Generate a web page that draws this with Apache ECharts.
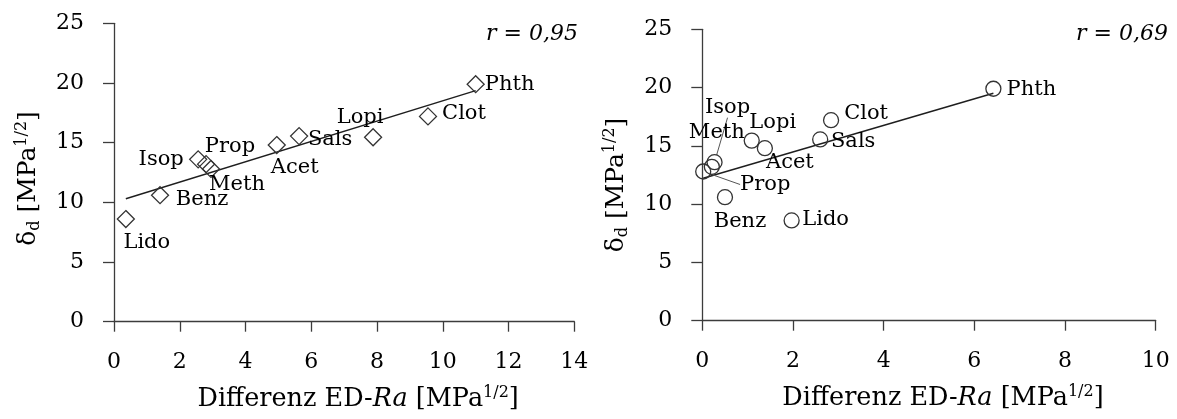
<!DOCTYPE html>
<html>
<head>
<meta charset="utf-8">
<script src="https://cdn.jsdelivr.net/npm/echarts@6/dist/echarts.min.js"></script>
<style>
  html, body { margin: 0; padding: 0; background: #ffffff; }
  #chart { width: 1177px; height: 419px; }
</style>
</head>
<body>
<div id="chart"></div>
<script>
// Substances and their dispersion parameter delta_d [MPa^1/2]
const substances = ['Phth', 'Clot', 'Lopi', 'Sals', 'Acet', 'Isop', 'Meth', 'Prop', 'Benz', 'Lido'];
const deltaD     = [19.9, 17.2, 15.45, 15.55, 14.8, 13.6, 13.2, 12.8, 10.6, 8.6];
// Difference ED - Ra [MPa^1/2], left and right panel
const diffLeft   = [11.0, 9.55, 7.88, 5.63, 4.95, 2.56, 2.8, 2.95, 1.4, 0.36];
const diffRight  = [6.42, 2.84, 1.09, 2.6, 1.38, 0.27, 0.21, 0.02, 0.5, 1.97];
// Correlation coefficients shown in the panels
const rLabels    = ['r = 0,95', 'r = 0,69'];
// Axis ranges
const xMaxLeft = 14, xMaxRight = 10, xStep = 2;
const yMax = 25, yStep = 5;

const FONT = 'DejaVu Serif';
const AXIS_COLOR = '#3c3c3c';
const TEXT_COLOR = '#000000';

// Label centre offset from the marker centre, in px
const labelPlaceLeft = {
  Phth: [34, 0], Clot: [36, -3], Lopi: [-13, -20], Sals: [31, 3], Acet: [18, 22],
  Isop: [-37, 0], Meth: [31, 20], Prop: [19, -22], Benz: [42, 4], Lido: [21, 23]
};
const labelPlaceRight = {
  Phth: [38, 1], Clot: [35, -7], Lopi: [21, -18], Sals: [33, 2], Acet: [25, 14],
  Isop: [13, -55], Meth: [5, -34], Prop: [62, 13], Benz: [15, 24], Lido: [34, -1]
};
const leaderLabelsRight = ['Isop', 'Prop'];

// Least-squares trend line spanning the data range
function trendLine(xs, ys) {
  const n = xs.length;
  const mx = xs.reduce((a, b) => a + b, 0) / n;
  const my = ys.reduce((a, b) => a + b, 0) / n;
  let sxy = 0, sxx = 0;
  for (let i = 0; i < n; i++) {
    sxy += (xs[i] - mx) * (ys[i] - my);
    sxx += (xs[i] - mx) * (xs[i] - mx);
  }
  const slope = sxy / sxx, icpt = my - slope * mx;
  const x0 = Math.min(...xs), x1 = Math.max(...xs);
  return [[x0, icpt + slope * x0], [x1, icpt + slope * x1]];
}

function richName(size) {
  const sub = Math.round(size * 0.62);
  return {
    n:   { fontFamily: FONT, fontSize: size, color: TEXT_COLOR, lineHeight: size + 4 },
    i:   { fontFamily: FONT, fontSize: size, color: TEXT_COLOR, fontStyle: 'italic', lineHeight: size + 4 },
    sup: { fontFamily: FONT, fontSize: sub, color: TEXT_COLOR, verticalAlign: 'top', lineHeight: sub + 4 },
    sub: { fontFamily: FONT, fontSize: sub, color: TEXT_COLOR, verticalAlign: 'bottom', lineHeight: sub + 2 }
  };
}

function xAxis(gridIndex, max) {
  return {
    gridIndex, type: 'value', min: 0, max, interval: xStep,
    axisLine: { show: true, onZero: false, lineStyle: { color: AXIS_COLOR, width: 1.3 } },
    axisTick: { show: true, length: 10, lineStyle: { color: AXIS_COLOR, width: 1.3 } },
    axisLabel: { fontFamily: FONT, fontSize: 22, color: TEXT_COLOR, margin: 30 },
    splitLine: { show: false },
    name: '{n|Differenz ED-}{i|Ra}{n| [MPa}{sup|1/2}{n|]}',
    nameLocation: 'middle', nameGap: 63,
    nameTextStyle: { rich: richName(25.5), padding: [0, 0, 0, 28] }
  };
}

function yAxis(gridIndex, shiftDown) {
  return {
    gridIndex, type: 'value', min: 0, max: yMax, interval: yStep,
    axisLine: { show: true, onZero: false, lineStyle: { color: AXIS_COLOR, width: 1.3 } },
    axisTick: { show: true, length: 11, lineStyle: { color: AXIS_COLOR, width: 1.3 } },
    axisLabel: { fontFamily: FONT, fontSize: 22, color: TEXT_COLOR, margin: 30 },
    splitLine: { show: false },
    name: '{n|δ}{sub|d}{n| [MPa}{sup|1/2}{n|]}',
    nameLocation: 'middle', nameRotate: 90, nameGap: 71,
    nameTextStyle: { rich: richName(25), padding: [0, shiftDown * 2, 0, 0] }
  };
}

function scatterSeries(idx, xs, symbol, size, place, leaders) {
  return {
    type: 'scatter', xAxisIndex: idx, yAxisIndex: idx,
    symbol, symbolSize: size, z: 3,
    itemStyle: { color: 'rgba(0,0,0,0)', borderColor: '#333333', borderWidth: 1.3, opacity: 1 },
    label: {
      show: true, position: 'inside', formatter: p => p.name,
      fontFamily: FONT, fontSize: 21, color: TEXT_COLOR
    },
    labelLayout: p => {
      const o = place[substances[p.dataIndex]];
      return { dx: o[0], dy: o[1] };
    },
    labelLine: { show: false, lineStyle: { color: '#555555', width: 1 } },
    emphasis: { disabled: true },
    data: substances.map((s, i) => ({
      name: s,
      value: [xs[i], deltaD[i]],
      labelLine: { show: leaders.includes(s), lineStyle: { color: '#555555', width: 1 } }
    }))
  };
}

function trendSeries(idx, xs) {
  return {
    type: 'line', xAxisIndex: idx, yAxisIndex: idx,
    data: trendLine(xs, deltaD), symbol: 'none', silent: true, z: 2,
    lineStyle: { color: '#1e1e1e', width: 1.4 }
  };
}

const chart = echarts.init(document.getElementById('chart'));
chart.setOption({
  backgroundColor: '#ffffff',
  animation: false,
  grid: [
    { left: 114, top: 23.3, width: 460.3, height: 298.4 },
    { left: 702.3, top: 29.3, width: 453.4, height: 291.4 }
  ],
  xAxis: [xAxis(0, xMaxLeft), xAxis(1, xMaxRight)],
  yAxis: [yAxis(0, 6), yAxis(1, 10)],
  series: [
    trendSeries(0, diffLeft),
    scatterSeries(0, diffLeft, 'diamond', 17, labelPlaceLeft, []),
    trendSeries(1, diffRight),
    scatterSeries(1, diffRight, 'circle', 15, labelPlaceRight, leaderLabelsRight)
  ],
  graphic: [
    { type: 'text', right: 1177 - 578, top: 23,
      style: { text: rLabels[0], font: 'italic 22px "DejaVu Serif"', fill: TEXT_COLOR } },
    { type: 'text', right: 1177 - 1168, top: 23,
      style: { text: rLabels[1], font: 'italic 22px "DejaVu Serif"', fill: TEXT_COLOR } }
  ]
});
</script>
</body>
</html>
